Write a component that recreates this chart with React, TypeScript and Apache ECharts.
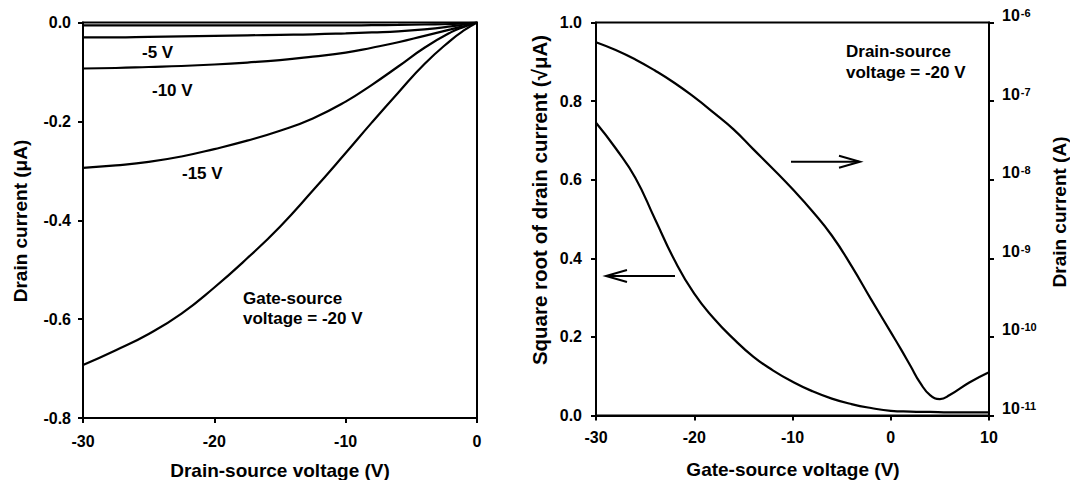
import React, { useEffect, useRef } from "react";
import * as echarts from "echarts";

// Left chart: output characteristics (drain current in µA vs drain-source voltage)
const VDS = [-30, -27.5, -25, -22.5, -20, -17.5, -15, -12.5, -10, -8, -6, -4, -2, -1, 0];
const ID_VGS_0 = [-0.006, -0.006, -0.006, -0.006, -0.006, -0.006, -0.006, -0.006, -0.006, -0.0055, -0.005, -0.004, -0.003, -0.0015, 0];
const ID_VGS_5 = [-0.030, -0.030, -0.029, -0.028, -0.027, -0.026, -0.025, -0.024, -0.022, -0.020, -0.018, -0.014, -0.008, -0.004, 0];
const ID_VGS_10 = [-0.093, -0.092, -0.090, -0.088, -0.085, -0.081, -0.076, -0.069, -0.061, -0.051, -0.040, -0.027, -0.014, -0.007, 0];
const ID_VGS_15 = [-0.294, -0.289, -0.282, -0.271, -0.256, -0.239, -0.219, -0.194, -0.160, -0.126, -0.089, -0.051, -0.020, -0.009, 0];
const ID_VGS_20 = [-0.693, -0.663, -0.630, -0.589, -0.536, -0.477, -0.413, -0.340, -0.264, -0.202, -0.142, -0.084, -0.036, -0.016, 0];

// Right chart: transfer characteristics at Vds = -20 V
const VGS = [-30, -28, -26, -24, -22, -20, -18, -16, -14, -12, -10, -8, -6, -4, -2, 0, 2, 4, 6, 8, 10];
const SQRT_ID = [0.745, 0.68, 0.605, 0.5, 0.395, 0.31, 0.247, 0.195, 0.15, 0.115, 0.086, 0.062, 0.043, 0.029, 0.019, 0.012, 0.01, 0.009, 0.008, 0.008, 0.008];
const VGS_LOG = [-30, -28, -26, -24, -22, -20, -18, -16, -14, -12, -10, -8, -6, -4, -2, 0, 1, 2, 3, 4, 5, 6, 8, 10];
const ID_LOG = [5.62e-7, 4.47e-7, 3.39e-7, 2.45e-7, 1.7e-7, 1.12e-7, 7.08e-8, 4.37e-8, 2.45e-8, 1.38e-8, 7.6e-9, 4.0e-9, 1.95e-9, 8.0e-10, 3.0e-10, 1.15e-10, 7.1e-11, 4.3e-11, 2.6e-11, 1.82e-11, 1.62e-11, 1.82e-11, 2.63e-11, 3.55e-11];

const LEFT_X_TICKS = { min: -30, max: 0, interval: 10 };
const LEFT_Y_TICKS = { min: -0.8, max: 0, interval: 0.2 };
const RIGHT_X_TICKS = { min: -30, max: 10, interval: 10 };
const RIGHT_Y_TICKS = { min: 0, max: 1, interval: 0.2 };
const RIGHT_LOG_TICKS = { min: 1e-11, max: 1e-6 };

const FONT = "'Liberation Sans', Arial, sans-serif";

const zip = (xs: number[], ys: number[]) => xs.map((x, i) => [x, ys[i]]);

export default function App() {
  const ref = useRef<HTMLDivElement>(null);

  useEffect(() => {
    if (!ref.current) return;
    const chart = echarts.init(ref.current, null, { renderer: "svg" });

    const axisLine = { show: true, onZero: false, lineStyle: { color: "#000", width: 2 } };
    const axisTick = { show: true, length: 5, inside: false, lineStyle: { color: "#000", width: 2 } };
    const label = { color: "#000", fontFamily: FONT, fontWeight: "bold" as const, fontSize: 16 };
    const line = (name: string, data: number[][], xi: number, yi: number) => ({
      name,
      type: "line",
      xAxisIndex: xi,
      yAxisIndex: yi,
      data,
      symbol: "none",
      smooth: 0.5,
      lineStyle: { color: "#000", width: 2.2 },
      silent: true,
    });
    const txt = (text: string, x: number, y: number, size: number, extra: any = {}) => ({
      type: "text",
      x,
      y,
      silent: true,
      rotation: extra.rotation || 0,
      style: {
        text,
        fill: "#000",
        font: `bold ${size}px ${FONT}`,
        textAlign: extra.align || "left",
        textVerticalAlign: extra.valign || "middle",
        lineHeight: extra.lh,
      },
    });

    const option: any = {
      animation: false,
      grid: [
        { left: 83, top: 22.5, width: 394, height: 395.5, show: true, borderColor: "#000", borderWidth: 2, containLabel: false },
        { left: 596, top: 22.5, width: 393, height: 393, show: true, borderColor: "#000", borderWidth: 2, containLabel: false },
      ],
      xAxis: [
        {
          type: "value", gridIndex: 0, ...LEFT_X_TICKS, position: "bottom",
          axisLine, axisTick, splitLine: { show: false },
          axisLabel: { ...label, margin: 15, formatter: (v: number) => `${Math.round(v)}` },
        },
        {
          type: "value", gridIndex: 1, ...RIGHT_X_TICKS, position: "bottom",
          axisLine, axisTick, splitLine: { show: false },
          axisLabel: { ...label, margin: 14, formatter: (v: number) => `${Math.round(v)}` },
        },
      ],
      yAxis: [
        {
          type: "value", gridIndex: 0, ...LEFT_Y_TICKS, position: "left",
          axisLine, axisTick, splitLine: { show: false },
          axisLabel: { ...label, margin: 12, formatter: (v: number) => v.toFixed(1) },
        },
        {
          type: "value", gridIndex: 1, ...RIGHT_Y_TICKS, position: "left",
          axisLine, axisTick, splitLine: { show: false },
          axisLabel: { ...label, margin: 14, formatter: (v: number) => v.toFixed(1) },
        },
        {
          type: "log", gridIndex: 1, logBase: 10, ...RIGHT_LOG_TICKS, interval: 1, position: "right",
          axisLine, axisTick, splitLine: { show: false }, minorTick: { show: false },
          axisLabel: {
            ...label,
            margin: 13,
            align: "left",
            padding: [0, 0, 14, 0],
            formatter: (v: number) => `{b|10}{s|${Math.round(Math.log10(v))}}`,
            rich: {
              b: { fontFamily: FONT, fontWeight: "bold", fontSize: 16, lineHeight: 16, color: "#000", verticalAlign: "bottom", padding: [3, 0, 0, 0] },
              s: { fontFamily: FONT, fontWeight: "bold", fontSize: 11, lineHeight: 11, color: "#000", verticalAlign: "top", padding: [0, 0, 0, 1] },
            },
          },
        },
      ],
      series: [
        line("0 V", zip(VDS, ID_VGS_0), 0, 0),
        line("-5 V", zip(VDS, ID_VGS_5), 0, 0),
        line("-10 V", zip(VDS, ID_VGS_10), 0, 0),
        line("-15 V", zip(VDS, ID_VGS_15), 0, 0),
        line("-20 V", zip(VDS, ID_VGS_20), 0, 0),
        line("sqrt", zip(VGS, SQRT_ID), 1, 1),
        line("log", zip(VGS_LOG, ID_LOG), 1, 2),
      ],
      graphic: [
        // axis titles
        txt("Drain current (\u03bcA)", 20, 221, 19, { align: "center", rotation: Math.PI / 2 }),
        txt("Drain-source voltage (V)", 280, 470.5, 19, { align: "center" }),
        txt("Square root of drain current (\u221a\u03bcA)", 539, 200, 20.5, { align: "center", rotation: Math.PI / 2 }),
        txt("Gate-source voltage (V)", 793, 469, 19, { align: "center" }),
        txt("Drain current (A)", 1059, 212, 19, { align: "center", rotation: Math.PI / 2 }),
        // curve labels
        txt("-5 V", 142, 52, 17),
        txt("-10 V", 152, 90, 17),
        txt("-15 V", 182, 173, 17),
        txt("Gate-source\nvoltage = -20 V", 243, 288, 17, { valign: "top", lh: 20 }),
        txt("Drain-source\nvoltage = -20 V", 846, 40.5, 17, { valign: "top", lh: 21 }),
        // arrows
        { type: "line", silent: true, shape: { x1: 791, y1: 161.7, x2: 859, y2: 161.7 }, style: { stroke: "#000", lineWidth: 2 } },
        { type: "polyline", silent: true, shape: { points: [[839, 155.7], [860, 161.7], [839, 167.7]] }, style: { stroke: "#000", lineWidth: 2, fill: null } },
        { type: "line", silent: true, shape: { x1: 606, y1: 276, x2: 675, y2: 276 }, style: { stroke: "#000", lineWidth: 2 } },
        { type: "polyline", silent: true, shape: { points: [[627, 270], [606, 276], [627, 282]] }, style: { stroke: "#000", lineWidth: 2, fill: null } },
      ],
    };

    chart.setOption(option);
    return () => chart.dispose();
  }, []);

  return (
    <div
      ref={ref}
      style={{ position: "absolute", left: 0, top: 0, width: 1070, height: 480, background: "#fff" }}
    />
  );
}
